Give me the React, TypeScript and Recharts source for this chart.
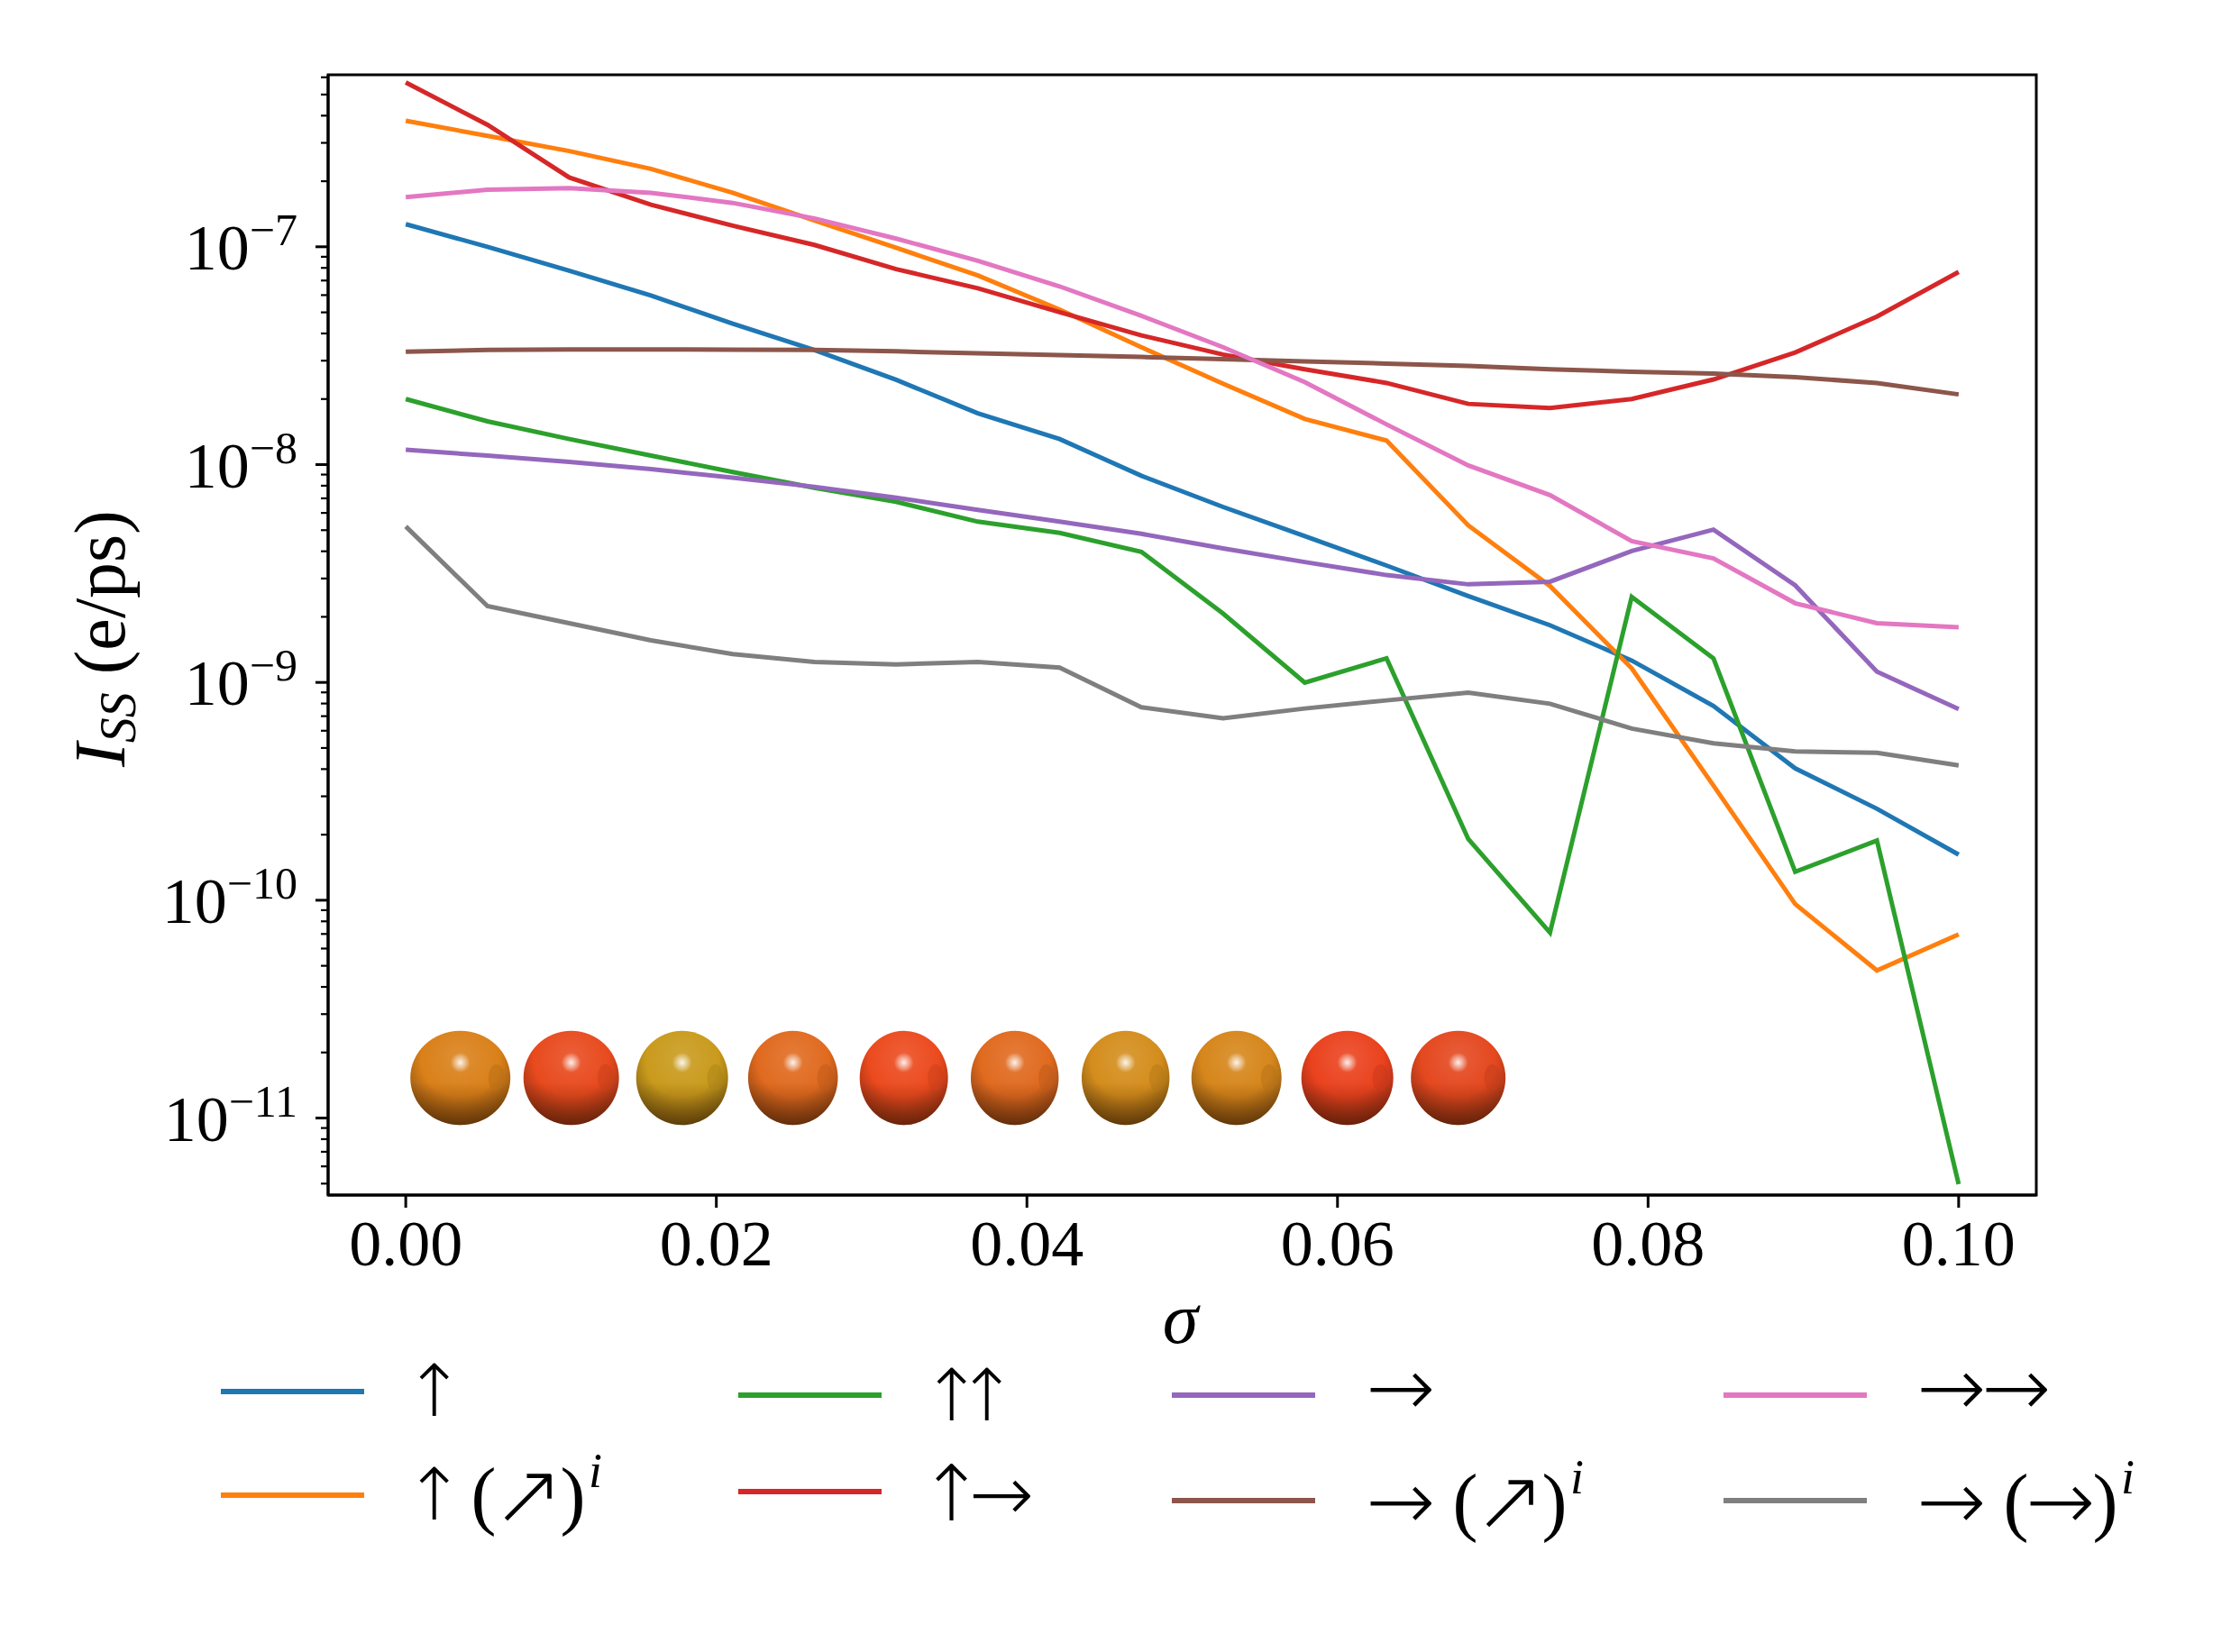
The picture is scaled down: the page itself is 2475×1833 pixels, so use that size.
import React from 'react';
import { LineChart, Line, XAxis, YAxis, ReferenceArea, Legend } from 'recharts';

// ---------- data ----------
const sigma = [
  0, 0.005263, 0.010526, 0.015789, 0.021053, 0.026316, 0.031579, 0.036842, 0.042105, 0.047368,
  0.052632, 0.057895, 0.063158, 0.068421, 0.073684, 0.078947, 0.084211, 0.089474, 0.094737, 0.1,
];

const up = [1.27e-7, 1.0e-7, 7.77e-8, 5.97e-8, 4.44e-8, 3.36e-8, 2.45e-8, 1.72e-8, 1.31e-8, 8.89e-9,
  6.39e-9, 4.69e-9, 3.44e-9, 2.49e-9, 1.83e-9, 1.26e-9, 7.8e-10, 4.03e-10, 2.63e-10, 1.62e-10];
const upNeI = [3.79e-7, 3.23e-7, 2.75e-7, 2.28e-7, 1.77e-7, 1.32e-7, 9.9e-8, 7.38e-8, 5.15e-8, 3.46e-8,
  2.35e-8, 1.62e-8, 1.29e-8, 5.26e-9, 2.77e-9, 1.16e-9, 3.36e-10, 9.6e-11, 4.76e-11, 6.97e-11];
const upUp = [2.0e-8, 1.58e-8, 1.31e-8, 1.1e-8, 9.25e-9, 7.82e-9, 6.75e-9, 5.47e-9, 4.86e-9, 3.98e-9,
  2.07e-9, 9.97e-10, 1.29e-9, 1.91e-10, 7.1e-11, 2.47e-9, 1.29e-9, 1.35e-10, 1.88e-10, 4.97e-12];
const upRight = [5.68e-7, 3.63e-7, 2.08e-7, 1.56e-7, 1.25e-7, 1.02e-7, 7.9e-8, 6.45e-8, 5.01e-8, 3.92e-8,
  3.2e-8, 2.74e-8, 2.37e-8, 1.9e-8, 1.82e-8, 2.0e-8, 2.46e-8, 3.27e-8, 4.78e-8, 7.66e-8];
const right = [1.17e-8, 1.1e-8, 1.03e-8, 9.53e-9, 8.71e-9, 7.91e-9, 7.05e-9, 6.2e-9, 5.47e-9, 4.81e-9,
  4.12e-9, 3.57e-9, 3.11e-9, 2.82e-9, 2.9e-9, 4.01e-9, 5.03e-9, 2.79e-9, 1.12e-9, 7.54e-10];
const rightNeI = [3.3e-8, 3.36e-8, 3.38e-8, 3.38e-8, 3.37e-8, 3.36e-8, 3.31e-8, 3.24e-8, 3.18e-8, 3.12e-8,
  3.05e-8, 2.98e-8, 2.91e-8, 2.84e-8, 2.74e-8, 2.67e-8, 2.62e-8, 2.52e-8, 2.37e-8, 2.1e-8];
const rightRight = [1.69e-7, 1.83e-7, 1.86e-7, 1.77e-7, 1.59e-7, 1.35e-7, 1.09e-7, 8.63e-8, 6.58e-8, 4.82e-8,
  3.46e-8, 2.39e-8, 1.53e-8, 9.91e-9, 7.24e-9, 4.45e-9, 3.71e-9, 2.31e-9, 1.87e-9, 1.79e-9];
const rightRightI = [5.2e-9, 2.24e-9, 1.87e-9, 1.56e-9, 1.35e-9, 1.24e-9, 1.21e-9, 1.24e-9, 1.17e-9, 7.69e-10,
  6.84e-10, 7.59e-10, 8.27e-10, 8.98e-10, 7.98e-10, 6.14e-10, 5.25e-10, 4.82e-10, 4.75e-10, 4.16e-10];

const seriesValues = [up, upNeI, upUp, upRight, right, rightNeI, rightRight, rightRightI];
const seriesKeys = ['s0', 's1', 's2', 's3', 's4', 's5', 's6', 's7'];
const seriesColors = ['#1f77b4', '#ff7f0e', '#2ca02c', '#d62728', '#9467bd', '#8c564b', '#e377c2', '#7f7f7f'];
const seriesLabels = ['↑', '↑ (↗)', '↑↑', '↑→', '→', '→ (↗)', '→→', '→ (→)'];
const seriesSup = ['', 'i', '', '', '', 'i', '', 'i'];

const xTicks = [0, 0.02, 0.04, 0.06, 0.08, 0.1];
const xTickLabels = ['0.00', '0.02', '0.04', '0.06', '0.08', '0.10'];
const yMajorTicks = [1e-11, 1e-10, 1e-9, 1e-8, 1e-7];
const yMajorExp = ['−11', '−10', '−9', '−8', '−7'];
const xDomain = [-0.005, 0.105];
const yDomain = [4.43e-12, 6.16e-7];

// decorative spheres (inset picture of the chain)
const sphereColors = ['#d98019', '#e84a1e', '#c99a1c', '#e06a1f', '#ec4a1e', '#e06a1f', '#d48d1c', '#d6861b', '#ea421e', '#e4481f'];
const sphereWidths = [111, 106, 102, 99.6, 98, 97.5, 97.5, 100, 102, 105];

// ---------- helpers ----------
const tableData = sigma.map((x, i) => {
  const row: any = { x };
  seriesKeys.forEach((k, j) => {
    row[k] = seriesValues[j][i];
  });
  return row;
});

const minorTicks: number[] = [];
for (let n = -12; n <= -7; n++) {
  for (let k = 2; k <= 9; k++) {
    const v = k * Math.pow(10, n);
    if (v >= yDomain[0] && v <= yDomain[1]) minorTicks.push(v);
  }
}
const allYTicks = [...yMajorTicks, ...minorTicks].sort((a, b) => a - b);

const FONT = "'Liberation Serif', 'DejaVu Serif', serif";
const ARROW_FONT = "'DejaVu Sans', sans-serif";
const ARROWS = '↑→↗';
const ARROW_ADV_EM = 0.838;

function mix(hex: string, target: number, t: number) {
  const r = parseInt(hex.slice(1, 3), 16);
  const g = parseInt(hex.slice(3, 5), 16);
  const b = parseInt(hex.slice(5, 7), 16);
  const f = (c: number) => Math.round(c + (target - c) * t);
  return `rgb(${f(r)},${f(g)},${f(b)})`;
}

const YTick = (props: any) => {
  const { x, y, payload } = props;
  const v = payload.value;
  const idx = yMajorTicks.findIndex((m) => Math.abs(m - v) / m < 1e-6);
  const isMajor = idx >= 0;
  return (
    <g>
      <line x1={x} x2={x - (isMajor ? 14 : 8)} y1={y} y2={y} stroke="#000" strokeWidth={isMajor ? 3 : 2.2} />
      {isMajor && (
        <text x={x - 34} y={y + 25} textAnchor="end" fontFamily={FONT} fontSize={72} fill="#000">
          10
          <tspan fontSize={50} dy={-27}>
            {yMajorExp[idx]}
          </tspan>
        </text>
      )}
    </g>
  );
};

const YLabel = (props: any) => {
  const vb = props.viewBox;
  const cy = vb && typeof vb.y === 'number' ? vb.y + vb.height / 2 + 4 : 708;
  const bx = 138;
  return (
    <text x={bx} y={cy} transform={`rotate(-90, ${bx}, ${cy})`} textAnchor="middle" fontFamily={FONT} fontSize={80} fill="#000">
      <tspan fontStyle="italic">I</tspan>
      <tspan fontStyle="italic" fontSize={56} dy={12}>SS</tspan>
      <tspan dy={-12}>{' (e/ps)'}</tspan>
    </text>
  );
};

const XLabel = (props: any) => {
  const vb = props.viewBox;
  const cx = vb && typeof vb.x === 'number' ? vb.x + vb.width / 2 - 2 : 1309;
  return (
    <text x={cx} y={1490} textAnchor="middle" fontFamily={FONT} fontSize={80} fontStyle="italic" fill="#000">
      σ
    </text>
  );
};

// legend layout
const colLineX = [245, 819, 1300, 1912];
const colTextX = [462, 1036, 1518, 2129];
const entryLineY = [1544, 1659, 1548, 1655, 1548, 1665, 1548, 1665];
const entryTextY = [1543, 1658, 1548, 1657, 1539, 1665, 1539, 1665];
const glyphAdv: Record<string, number> = { '↑': 39, '→': 72, '↗': 72, ' ': 22, '(': 27, ')': 27 };
const glyphSize: Record<string, number> = { '↑': 80, '→': 92, '↗': 96, '(': 84, ')': 84 };

// split a label into runs: consecutive arrows form one run (one text node)
function splitRuns(label: string) {
  const chars = Array.from(label);
  const runs: { text: string; arrow: boolean }[] = [];
  chars.forEach((ch) => {
    const arrow = ARROWS.includes(ch);
    const last = runs[runs.length - 1];
    if (last && last.arrow && arrow) last.text += ch;
    else runs.push({ text: ch, arrow });
  });
  return runs;
}

const LegendText = ({ label, sup, x0, cy }: { label: string; sup: string; x0: number; cy: number }) => {
  let cx = x0;
  const parts: any[] = [];
  splitRuns(label).forEach((run, j) => {
    const chars = Array.from(run.text);
    const runAdv = chars.reduce((s, c) => s + (glyphAdv[c] ?? 30), 0);
    if (run.text === ' ') {
      cx += runAdv;
      return;
    }
    if (run.arrow) {
      const sizes = chars.map((c) => glyphSize[c] ?? 86);
      const fs = sizes.reduce((a, b) => a + b, 0) / sizes.length;
      const nat = ARROW_ADV_EM * fs;
      const first = glyphAdv[chars[0]];
      const start = cx + first / 2 - nat / 2;
      let ls = 0;
      if (chars.length > 1) ls = (first + glyphAdv[chars[1]]) / 2 - nat;
      parts.push(
        <text
          key={j}
          x={start}
          y={cy}
          dominantBaseline="central"
          fontFamily={ARROW_FONT}
          fontWeight={300}
          fontSize={fs}
          letterSpacing={ls}
          fill="#000"
        >
          {run.text}
        </text>
      );
    } else {
      parts.push(
        <text
          key={j}
          x={cx + runAdv / 2}
          y={cy}
          textAnchor="middle"
          dominantBaseline="central"
          fontFamily={FONT}
          fontSize={glyphSize[run.text] ?? 76}
          fill="#000"
        >
          {run.text}
        </text>
      );
    }
    cx += runAdv;
  });
  if (sup) {
    parts.push(
      <text key="sup" x={cx + 4} y={cy - 8} fontFamily={FONT} fontStyle="italic" fontSize={54} fill="#000">
        {sup}
      </text>
    );
  }
  return <g>{parts}</g>;
};

const Overlay = () => (
  <svg width={2475} height={1833} style={{ position: 'absolute', left: 0, top: 0, pointerEvents: 'none' }}>
    <defs>
      {sphereColors.map((c, k) => (
        <radialGradient key={k} id={`sg${k}`} cx="50%" cy="32%" r="72%" fx="50%" fy="28%">
          <stop offset="0%" stopColor={mix(c, 255, 0.12)} />
          <stop offset="55%" stopColor={c} />
          <stop offset="100%" stopColor={mix(c, 0, 0.45)} />
        </radialGradient>
      ))}
      <linearGradient id="shadeBottom" x1="0" y1="0" x2="0" y2="1">
        <stop offset="0%" stopColor="rgb(60,25,0)" stopOpacity={0} />
        <stop offset="55%" stopColor="rgb(60,25,0)" stopOpacity={0} />
        <stop offset="100%" stopColor="rgb(60,25,0)" stopOpacity={0.45} />
      </linearGradient>
      <radialGradient id="hl" cx="50%" cy="50%" r="50%">
        <stop offset="0%" stopColor="#fff" stopOpacity={0.9} />
        <stop offset="100%" stopColor="#fff" stopOpacity={0} />
      </radialGradient>
    </defs>
    {sphereColors.map((c, k) => {
      const cx = 510.7 + k * 123.0;
      const cy = 1196;
      const rx = sphereWidths[k] / 2;
      const ry = 52.3;
      return (
        <g key={k}>
          <ellipse cx={cx} cy={cy} rx={rx} ry={ry} fill={`url(#sg${k})`} />
          <ellipse cx={cx} cy={cy} rx={rx} ry={ry} fill="url(#shadeBottom)" />
          <ellipse cx={cx + rx * 0.72} cy={cy} rx={9} ry={15} fill={mix(c, 0, 0.15)} opacity={0.5} />
          <circle cx={cx} cy={cy - 17} r={11} fill="url(#hl)" />
        </g>
      );
    })}
    {seriesKeys.map((k, i) => {
      const col = Math.floor(i / 2);
      return (
        <g key={k}>
          <line x1={colLineX[col]} x2={colLineX[col] + 159} y1={entryLineY[i]} y2={entryLineY[i]} stroke={seriesColors[i]} strokeWidth={6} />
          <LegendText label={seriesLabels[i]} sup={seriesSup[i]} x0={colTextX[col]} cy={entryTextY[i]} />
        </g>
      );
    })}
  </svg>
);

export default function App() {
  return (
    <div style={{ position: 'absolute', left: 0, top: 0, width: 2475, height: 1833, overflow: 'hidden', background: '#fff' }}>
      <LineChart width={2475} height={1833} data={tableData} margin={{ top: 83, right: 216, left: 0, bottom: 387 }}>
        <XAxis
          dataKey="x"
          type="number"
          domain={xDomain}
          allowDataOverflow
          ticks={xTicks}
          interval={0}
          tickFormatter={(v: number) => xTickLabels[xTicks.findIndex((t) => Math.abs(t - v) < 1e-9)] ?? String(v)}
          tick={{ fontSize: 72, fontFamily: FONT, fill: '#000' }}
          tickSize={14}
          tickMargin={13}
          tickLine={{ stroke: '#000', strokeWidth: 3 }}
          axisLine={{ stroke: '#000', strokeWidth: 3 }}
          height={120}
          label={<XLabel />}
        />
        <YAxis
          type="number"
          scale="log"
          domain={yDomain}
          allowDataOverflow
          ticks={allYTicks}
          interval={0}
          tick={<YTick />}
          tickSize={0}
          tickMargin={0}
          tickLine={false}
          axisLine={{ stroke: '#000', strokeWidth: 3 }}
          width={364}
          label={<YLabel />}
        />
        {seriesKeys.map((k, i) => (
          <Line
            key={k}
            type="linear"
            dataKey={k}
            stroke={seriesColors[i]}
            strokeWidth={5}
            dot={false}
            activeDot={false}
            isAnimationActive={false}
          />
        ))}
        <ReferenceArea
          x1={xDomain[0]}
          x2={xDomain[1]}
          y1={yDomain[0]}
          y2={yDomain[1]}
          fill="none"
          fillOpacity={0}
          stroke="#000"
          strokeWidth={3}
          ifOverflow="visible"
        />
        <Legend
          layout="vertical"
          align="center"
          verticalAlign="middle"
          wrapperStyle={{ left: 0, top: 0, width: 2475, height: 1833, pointerEvents: 'none' }}
          content={() => <Overlay />}
        />
      </LineChart>
    </div>
  );
}
